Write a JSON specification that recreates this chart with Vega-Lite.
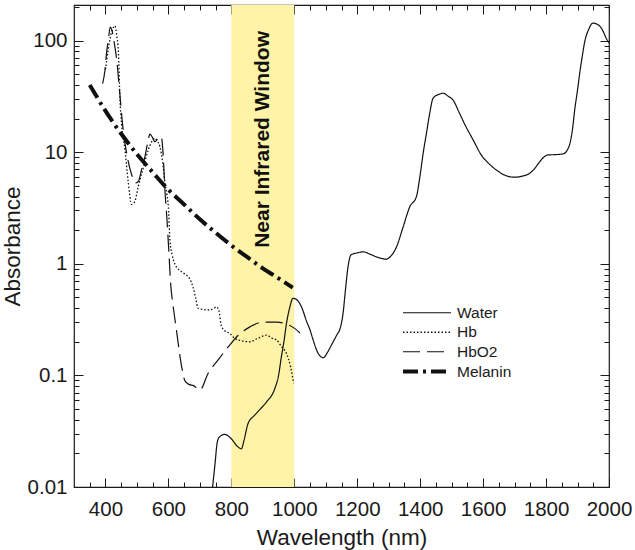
{
  "$schema": "https://vega.github.io/schema/vega-lite/v6.json",
  "width": 535,
  "height": 482,
  "autosize": {"type": "none"},
  "padding": {"left": 74, "top": 5, "right": 26, "bottom": 63},
  "background": "white",
  "config": {
    "view": {"stroke": "#1a1a1a", "strokeWidth": 1.2},
    "font": "Liberation Sans",
    "axis": {"domain": false, "grid": false, "zindex": 1, "tickColor": "#1a1a1a", "tickWidth": 1, "labelColor": "#1a1a1a", "titleColor": "#1a1a1a", "labelFont": "Liberation Sans", "titleFont": "Liberation Sans", "titleFontWeight": "normal", "labelFontSize": 20.5, "titleFontSize": 22.5}
  },
  "datasets": {
    "curves": [
      {"s": "Water", "wl": 740, "ab": 0.0098},
      {"s": "Water", "wl": 748, "ab": 0.016},
      {"s": "Water", "wl": 755, "ab": 0.025},
      {"s": "Water", "wl": 762, "ab": 0.028},
      {"s": "Water", "wl": 779, "ab": 0.0296},
      {"s": "Water", "wl": 800, "ab": 0.027},
      {"s": "Water", "wl": 820, "ab": 0.023},
      {"s": "Water", "wl": 832, "ab": 0.022},
      {"s": "Water", "wl": 840, "ab": 0.026},
      {"s": "Water", "wl": 853, "ab": 0.037},
      {"s": "Water", "wl": 874, "ab": 0.044},
      {"s": "Water", "wl": 895, "ab": 0.051},
      {"s": "Water", "wl": 912, "ab": 0.058},
      {"s": "Water", "wl": 938, "ab": 0.076},
      {"s": "Water", "wl": 950, "ab": 0.1},
      {"s": "Water", "wl": 959, "ab": 0.147},
      {"s": "Water", "wl": 967, "ab": 0.2},
      {"s": "Water", "wl": 975, "ab": 0.29},
      {"s": "Water", "wl": 985, "ab": 0.4},
      {"s": "Water", "wl": 996, "ab": 0.49},
      {"s": "Water", "wl": 1010, "ab": 0.47},
      {"s": "Water", "wl": 1023, "ab": 0.41},
      {"s": "Water", "wl": 1040, "ab": 0.3},
      {"s": "Water", "wl": 1049, "ab": 0.26},
      {"s": "Water", "wl": 1060, "ab": 0.207},
      {"s": "Water", "wl": 1076, "ab": 0.157},
      {"s": "Water", "wl": 1092, "ab": 0.144},
      {"s": "Water", "wl": 1105, "ab": 0.16},
      {"s": "Water", "wl": 1118, "ab": 0.187},
      {"s": "Water", "wl": 1135, "ab": 0.23},
      {"s": "Water", "wl": 1145, "ab": 0.26},
      {"s": "Water", "wl": 1155, "ab": 0.36},
      {"s": "Water", "wl": 1163, "ab": 0.6},
      {"s": "Water", "wl": 1171, "ab": 0.95},
      {"s": "Water", "wl": 1180, "ab": 1.2},
      {"s": "Water", "wl": 1200, "ab": 1.25},
      {"s": "Water", "wl": 1219, "ab": 1.28},
      {"s": "Water", "wl": 1240, "ab": 1.22},
      {"s": "Water", "wl": 1266, "ab": 1.14},
      {"s": "Water", "wl": 1291, "ab": 1.1},
      {"s": "Water", "wl": 1310, "ab": 1.2},
      {"s": "Water", "wl": 1325, "ab": 1.42},
      {"s": "Water", "wl": 1345, "ab": 2.1},
      {"s": "Water", "wl": 1367, "ab": 3.24},
      {"s": "Water", "wl": 1388, "ab": 3.99},
      {"s": "Water", "wl": 1399, "ab": 6.0},
      {"s": "Water", "wl": 1410, "ab": 10},
      {"s": "Water", "wl": 1420, "ab": 14.8},
      {"s": "Water", "wl": 1430, "ab": 22},
      {"s": "Water", "wl": 1441, "ab": 30.4},
      {"s": "Water", "wl": 1460, "ab": 33},
      {"s": "Water", "wl": 1473, "ab": 33.7},
      {"s": "Water", "wl": 1490, "ab": 31.5},
      {"s": "Water", "wl": 1504, "ab": 29.4},
      {"s": "Water", "wl": 1525, "ab": 22.3},
      {"s": "Water", "wl": 1545, "ab": 17},
      {"s": "Water", "wl": 1568, "ab": 12.9},
      {"s": "Water", "wl": 1594, "ab": 9.44},
      {"s": "Water", "wl": 1620, "ab": 7.8},
      {"s": "Water", "wl": 1642, "ab": 6.92},
      {"s": "Water", "wl": 1670, "ab": 6.2},
      {"s": "Water", "wl": 1700, "ab": 5.96},
      {"s": "Water", "wl": 1725, "ab": 6.1},
      {"s": "Water", "wl": 1748, "ab": 6.47},
      {"s": "Water", "wl": 1765, "ab": 7.2},
      {"s": "Water", "wl": 1780, "ab": 8.22},
      {"s": "Water", "wl": 1806, "ab": 9.44},
      {"s": "Water", "wl": 1830, "ab": 9.5},
      {"s": "Water", "wl": 1854, "ab": 9.64},
      {"s": "Water", "wl": 1868, "ab": 10.5},
      {"s": "Water", "wl": 1876, "ab": 12.0},
      {"s": "Water", "wl": 1884, "ab": 16},
      {"s": "Water", "wl": 1891, "ab": 23.9},
      {"s": "Water", "wl": 1900, "ab": 36},
      {"s": "Water", "wl": 1907, "ab": 51},
      {"s": "Water", "wl": 1915, "ab": 72},
      {"s": "Water", "wl": 1922, "ab": 95},
      {"s": "Water", "wl": 1935, "ab": 125},
      {"s": "Water", "wl": 1949, "ab": 143},
      {"s": "Water", "wl": 1962, "ab": 140},
      {"s": "Water", "wl": 1976, "ab": 129},
      {"s": "Water", "wl": 1991, "ab": 105},
      {"s": "Water", "wl": 2000, "ab": 95},
      {"s": "Hb", "wl": 400, "ab": 55},
      {"s": "Hb", "wl": 408, "ab": 80},
      {"s": "Hb", "wl": 415, "ab": 105},
      {"s": "Hb", "wl": 422, "ab": 125},
      {"s": "Hb", "wl": 430, "ab": 135},
      {"s": "Hb", "wl": 436, "ab": 110},
      {"s": "Hb", "wl": 441, "ab": 80},
      {"s": "Hb", "wl": 446, "ab": 30},
      {"s": "Hb", "wl": 451, "ab": 18},
      {"s": "Hb", "wl": 462, "ab": 10.5},
      {"s": "Hb", "wl": 472, "ab": 5.5},
      {"s": "Hb", "wl": 483, "ab": 3.4},
      {"s": "Hb", "wl": 493, "ab": 3.6},
      {"s": "Hb", "wl": 504, "ab": 4.9},
      {"s": "Hb", "wl": 520, "ab": 7.2},
      {"s": "Hb", "wl": 536, "ab": 10.5},
      {"s": "Hb", "wl": 547, "ab": 12.4},
      {"s": "Hb", "wl": 557, "ab": 13.3},
      {"s": "Hb", "wl": 565, "ab": 12.5},
      {"s": "Hb", "wl": 573, "ab": 11.2},
      {"s": "Hb", "wl": 582, "ab": 8},
      {"s": "Hb", "wl": 589, "ab": 5.3},
      {"s": "Hb", "wl": 595, "ab": 4.2},
      {"s": "Hb", "wl": 600, "ab": 3.2},
      {"s": "Hb", "wl": 605, "ab": 1.6},
      {"s": "Hb", "wl": 612, "ab": 1.2},
      {"s": "Hb", "wl": 620, "ab": 1.0},
      {"s": "Hb", "wl": 641, "ab": 0.85},
      {"s": "Hb", "wl": 655, "ab": 0.8},
      {"s": "Hb", "wl": 667, "ab": 0.74},
      {"s": "Hb", "wl": 678, "ab": 0.62},
      {"s": "Hb", "wl": 686, "ab": 0.5},
      {"s": "Hb", "wl": 694, "ab": 0.4},
      {"s": "Hb", "wl": 710, "ab": 0.39},
      {"s": "Hb", "wl": 731, "ab": 0.385},
      {"s": "Hb", "wl": 745, "ab": 0.4},
      {"s": "Hb", "wl": 752, "ab": 0.41},
      {"s": "Hb", "wl": 760, "ab": 0.385},
      {"s": "Hb", "wl": 768, "ab": 0.28},
      {"s": "Hb", "wl": 780, "ab": 0.25},
      {"s": "Hb", "wl": 795, "ab": 0.238},
      {"s": "Hb", "wl": 811, "ab": 0.214},
      {"s": "Hb", "wl": 830, "ab": 0.205},
      {"s": "Hb", "wl": 859, "ab": 0.2},
      {"s": "Hb", "wl": 885, "ab": 0.215},
      {"s": "Hb", "wl": 912, "ab": 0.229},
      {"s": "Hb", "wl": 930, "ab": 0.215},
      {"s": "Hb", "wl": 944, "ab": 0.207},
      {"s": "Hb", "wl": 960, "ab": 0.18},
      {"s": "Hb", "wl": 975, "ab": 0.157},
      {"s": "Hb", "wl": 988, "ab": 0.12},
      {"s": "Hb", "wl": 998, "ab": 0.085},
      {"s": "HbO2", "wl": 391, "ab": 41},
      {"s": "HbO2", "wl": 398, "ab": 53},
      {"s": "HbO2", "wl": 404, "ab": 80},
      {"s": "HbO2", "wl": 409, "ab": 100},
      {"s": "HbO2", "wl": 415, "ab": 132},
      {"s": "HbO2", "wl": 420, "ab": 125},
      {"s": "HbO2", "wl": 428, "ab": 95},
      {"s": "HbO2", "wl": 435, "ab": 70},
      {"s": "HbO2", "wl": 445, "ab": 35},
      {"s": "HbO2", "wl": 455, "ab": 17},
      {"s": "HbO2", "wl": 468, "ab": 9.5},
      {"s": "HbO2", "wl": 483, "ab": 6.3},
      {"s": "HbO2", "wl": 497, "ab": 5.3},
      {"s": "HbO2", "wl": 505, "ab": 5.5},
      {"s": "HbO2", "wl": 515, "ab": 7},
      {"s": "HbO2", "wl": 525, "ab": 9},
      {"s": "HbO2", "wl": 535, "ab": 12.5},
      {"s": "HbO2", "wl": 541, "ab": 14.5},
      {"s": "HbO2", "wl": 549, "ab": 13.6},
      {"s": "HbO2", "wl": 557, "ab": 12.4},
      {"s": "HbO2", "wl": 565, "ab": 13},
      {"s": "HbO2", "wl": 577, "ab": 13.8},
      {"s": "HbO2", "wl": 583, "ab": 9.8},
      {"s": "HbO2", "wl": 589, "ab": 4.5},
      {"s": "HbO2", "wl": 595, "ab": 2.6},
      {"s": "HbO2", "wl": 602, "ab": 1.2},
      {"s": "HbO2", "wl": 607, "ab": 0.67},
      {"s": "HbO2", "wl": 615, "ab": 0.42},
      {"s": "HbO2", "wl": 625, "ab": 0.26},
      {"s": "HbO2", "wl": 642, "ab": 0.12},
      {"s": "HbO2", "wl": 652, "ab": 0.09},
      {"s": "HbO2", "wl": 665, "ab": 0.083},
      {"s": "HbO2", "wl": 680, "ab": 0.081},
      {"s": "HbO2", "wl": 700, "ab": 0.074},
      {"s": "HbO2", "wl": 726, "ab": 0.104},
      {"s": "HbO2", "wl": 760, "ab": 0.14},
      {"s": "HbO2", "wl": 790, "ab": 0.18},
      {"s": "HbO2", "wl": 822, "ab": 0.229},
      {"s": "HbO2", "wl": 859, "ab": 0.272},
      {"s": "HbO2", "wl": 900, "ab": 0.3},
      {"s": "HbO2", "wl": 944, "ab": 0.3},
      {"s": "HbO2", "wl": 975, "ab": 0.288},
      {"s": "HbO2", "wl": 1000, "ab": 0.265},
      {"s": "HbO2", "wl": 1018, "ab": 0.24},
      {"s": "Melanin", "wl": 350, "ab": 40},
      {"s": "Melanin", "wl": 400, "ab": 23.4},
      {"s": "Melanin", "wl": 450, "ab": 14.6},
      {"s": "Melanin", "wl": 500, "ab": 9.6},
      {"s": "Melanin", "wl": 550, "ab": 6.6},
      {"s": "Melanin", "wl": 600, "ab": 4.6},
      {"s": "Melanin", "wl": 650, "ab": 3.4},
      {"s": "Melanin", "wl": 700, "ab": 2.5},
      {"s": "Melanin", "wl": 750, "ab": 1.9},
      {"s": "Melanin", "wl": 800, "ab": 1.46},
      {"s": "Melanin", "wl": 850, "ab": 1.15},
      {"s": "Melanin", "wl": 900, "ab": 0.91},
      {"s": "Melanin", "wl": 950, "ab": 0.74},
      {"s": "Melanin", "wl": 995, "ab": 0.61}
    ],
    "band": [{"from": 800, "to": 1000}],
    "label": [{"wl": 900, "ab": 13, "t": "Near Infrared Window"}]
  },
  "layer": [
    {
      "data": {"name": "band"},
      "mark": {"type": "rect", "color": "#FEF3A6"},
      "encoding": {
        "x": {"field": "from", "type": "quantitative", "axis": null, "scale": {"domain": [300, 2000], "nice": false, "zero": false}},
        "x2": {"field": "to"}
      }
    },
    {
      "data": {"name": "curves"},
      "mark": {"type": "line", "color": "#111111", "interpolate": "monotone", "clip": true},
      "encoding": {
        "x": {"field": "wl", "type": "quantitative", "scale": {"domain": [300, 2000], "nice": false, "zero": false},
          "axis": {"orient": "bottom", "values": [400, 600, 800, 1000, 1200, 1400, 1600, 1800, 2000], "format": "d", "tickSize": -9, "labelPadding": 21, "labelFlush": false, "title": "Wavelength (nm)", "titlePadding": 7}},
        "y": {"field": "ab", "type": "quantitative", "scale": {"type": "log", "domain": [0.01, 208], "nice": false},
          "axis": {"orient": "left", "values": [0.01, 0.1, 1, 10, 100], "format": "~g", "tickSize": -9, "labelPadding": 16, "labelFlush": false, "title": "Absorbance", "titlePadding": 3}},
        "strokeDash": {"field": "s", "type": "nominal", "scale": {"domain": ["Water", "Hb", "HbO2", "Melanin"], "range": [[1, 0], [1.5, 2], [17, 7], [15, 5, 3, 5]]},
          "legend": {"orient": "none", "legendX": 345, "legendY": 300, "title": null, "symbolType": "M-4,0H4", "symbolSize": 144, "symbolStrokeColor": "#111111", "labelFontSize": 15.5, "labelColor": "#1a1a1a", "labelOffset": 22, "rowPadding": 2.5, "padding": 0}},
        "strokeWidth": {"field": "s", "type": "nominal", "scale": {"type": "ordinal", "domain": ["Water", "Hb", "HbO2", "Melanin"], "range": [1.2, 1.3, 1.2, 4]},
          "legend": {"orient": "none", "legendX": 345, "legendY": 300, "title": null, "symbolType": "M-4,0H4", "symbolSize": 144, "symbolStrokeColor": "#111111", "labelFontSize": 15.5, "labelColor": "#1a1a1a", "labelOffset": 22, "rowPadding": 2.5, "padding": 0}}
      }
    },
    {
      "data": {"name": "label"},
      "mark": {"type": "text", "angle": 270, "align": "center", "baseline": "middle", "fontSize": 21, "fontWeight": "bold", "font": "Liberation Sans", "color": "#111111"},
      "encoding": {
        "x": {"field": "wl", "type": "quantitative", "axis": {"orient": "top", "values": [400, 600, 800, 1000, 1200, 1400, 1600, 1800, 2000], "tickSize": -9, "labels": false, "title": null}},
        "y": {"field": "ab", "type": "quantitative", "axis": {"orient": "right", "values": [0.01, 0.1, 1, 10, 100], "tickSize": -9, "labels": false, "title": null}},
        "text": {"field": "t"}
      }
    },
    {
      "data": {"name": "label"},
      "mark": {"type": "point", "opacity": 0},
      "encoding": {
        "x": {"field": "wl", "type": "quantitative", "axis": {"orient": "bottom", "values": [350, 450, 500, 550, 650, 700, 750, 850, 900, 950, 1050, 1100, 1150, 1250, 1300, 1350, 1450, 1500, 1550, 1650, 1700, 1750, 1850, 1900, 1950], "tickSize": -5, "labels": false, "title": null}},
        "y": {"field": "ab", "type": "quantitative", "axis": {"orient": "left", "values": [0.02, 0.03, 0.04, 0.05, 0.06, 0.07, 0.08, 0.09, 0.2, 0.3, 0.4, 0.5, 0.6, 0.7, 0.8, 0.9, 2, 3, 4, 5, 6, 7, 8, 9, 20, 30, 40, 50, 60, 70, 80, 90, 200], "tickSize": -5, "labels": false, "title": null}}
      }
    },
    {
      "data": {"name": "label"},
      "mark": {"type": "point", "opacity": 0},
      "encoding": {
        "x": {"field": "wl", "type": "quantitative", "axis": {"orient": "top", "values": [350, 450, 500, 550, 650, 700, 750, 850, 900, 950, 1050, 1100, 1150, 1250, 1300, 1350, 1450, 1500, 1550, 1650, 1700, 1750, 1850, 1900, 1950], "tickSize": -5, "labels": false, "title": null}},
        "y": {"field": "ab", "type": "quantitative", "axis": {"orient": "right", "values": [0.02, 0.03, 0.04, 0.05, 0.06, 0.07, 0.08, 0.09, 0.2, 0.3, 0.4, 0.5, 0.6, 0.7, 0.8, 0.9, 2, 3, 4, 5, 6, 7, 8, 9, 20, 30, 40, 50, 60, 70, 80, 90, 200], "tickSize": -5, "labels": false, "title": null}}
      }
    }
  ],
  "resolve": {"axis": {"x": "independent", "y": "independent"}}
}
